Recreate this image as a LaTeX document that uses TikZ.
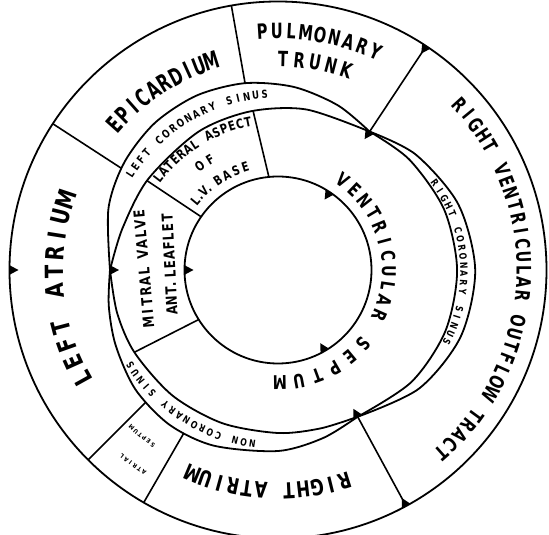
\documentclass[tikz,border=0pt]{standalone}
\usepackage{fontspec}
\setmainfont{DejaVu Sans}
\usetikzlibrary{calc}
\tikzset{
  ln/.style={line width=1.8pt, line join=round},
  dv/.style={line width=1.6pt},
  ch/.style={inner sep=0pt, text depth=0pt},
  st/.style n args={3}{font=\fontsize{#1}{#1}\selectfont\bfseries, text height=#2, xscale=#3},
  tEpi/.style={st={24}{17.5pt}{0.65}},
  tPul/.style={st={21}{15.3pt}{0.7}},
  tRvo/.style={st={20}{14.6pt}{0.72}},
  tRa/.style={st={22}{16pt}{0.75}},
  tLa/.style={st={25}{18.2pt}{0.78}},
  tVs/.style={st={19}{13.9pt}{0.75}},
  tMv/.style={st={15}{10.9pt}{0.78}},
  tLat/.style={st={13}{9.5pt}{0.78}},
  tLcs/.style={st={11}{8pt}{0.78}},
  tSin/.style={st={10}{7.3pt}{0.78}},
  tAs/.style={st={6}{4.4pt}{0.9}},
  tri/.style={fill=black, draw=none}
}
% letters along an arc, uniform step
\newcommand\arclabel[6][]{%
  \foreach \lch [count=\li from 0] in {#6}{%
    \pgfmathsetmacro\lang{#4+\li*(#5)}%
    \pgfmathsetmacro\lrot{\lang-90}%
    \node[ch,rotate=\lrot,#1] at ($#2+(\lang:#3)$) {\lch};
  }}
% letters along an arc, slot/char pairs
\newcommand\arclabelp[6][]{%
  \foreach \ls/\lch in {#6}{%
    \pgfmathsetmacro\lang{#4+\ls*(#5)}%
    \pgfmathsetmacro\lrot{\lang-90}%
    \node[ch,rotate=\lrot,#1] at ($#2+(\lang:#3)$) {\lch};
  }}
% letters along a straight line, slot/char pairs
\newcommand\linelabel[5][]{%
  \foreach \ls/\lch in {#5}{%
    \node[ch,rotate=#3,#1] at ($#2+(#3:{\ls*#4})$) {\lch};
  }}
% small inward pointing triangle on a ring
\newcommand\comtri[2]{%
  \fill[tri] ($(#1:#2)+(#1+90:4.8)$) -- ($(#1:#2)+(#1-90:4.8)$) -- (#1:{#2-9}) -- cycle;}

\begin{document}
\begin{tikzpicture}[x=1pt,y=1pt]
\useasboundingbox (-278,-265) rectangle (271,270);
\coordinate (C) at (0,0);
\coordinate (P1) at (56.5:166);
\coordinate (P2) at (-61.5:167);
\coordinate (PL) at (180:168);

% rings
\draw[ln] (C) circle[radius=268.5];
\draw[ln] (C) circle[radius=93.5];

% sinus curves
\draw[ln] plot[smooth] coordinates {(56.5:166) (70:175.2) (85:183.7) (100:189.7) (115:192.5) (130:191.8) (145:187.6) (160:180.4) (180:168)};
\draw[ln] plot[smooth] coordinates {(56.5:166) (80:163) (100:161) (120:159.5) (145:158.5) (165:161) (180:168)};
\draw[ln] plot[smooth] coordinates {(56.5:166) (40:179.7) (20:191.9) (0:197.2) (-20:194.5) (-40:184.3) (-61.5:167)};
\draw[ln] plot[smooth] coordinates {(56.5:166) (40:171.6) (20:176.8) (0:179.1) (-20:178.2) (-40:174.2) (-61.5:167)};
\draw[ln] plot[smooth] coordinates {(-61.5:167) (-75:174) (-90:181) (-110:187) (-125:189) (-140:186) (-155:179) (-168:173) (-180:168)};
\draw[ln] plot[smooth] coordinates {(-61.5:167) (-75:164) (-90:163) (-110:163) (-130:164) (-150:165.5) (-165:166.5) (-180:168)};

% outer dividers
\draw[dv] (147:187.4) -- (147:268.5);
\draw[dv] (100:189.7) -- (100:268.5);
\draw[dv] (P1) -- (56.5:268.5);
\draw[dv] (P2) -- (-61.5:268.5);
\draw[dv] (-120:188.5) -- (-120:268.5);
\draw[dv] (-135:187.5) -- (-135:268.5);
% inner dividers
\draw[dv] (145.7:158.5) -- (145.3:93.5);
\draw[dv] (98.9:161) -- (95.6:93.5);
\draw[dv] (-150.2:165.5) -- (-148:93.5);

% triangles
\comtri{56.5}{268.5}\comtri{180}{268.5}\comtri{-61.5}{268.5}
\comtri{56.5}{166}\comtri{180}{168}\comtri{-61.5}{167}
\comtri{56.5}{93.5}\comtri{180}{93.5}\comtri{-60}{93.5}

% outer ring labels
\arclabel[tEpi]{(0,0)}{219}{138.3}{-3.41}{E,P,I,C,A,R,D,I,U,M}
\arclabel[tPul]{(0,0)}{239}{93.8}{-3.49}{P,U,L,M,O,N,A,R,Y}
\arclabel[tPul]{(0,0)}{211}{88.6}{-4.375}{T,R,U,N,K}
\arclabel[tRvo]{(0,0)}{246}{42.3}{-3.02}{R,I,G,H,T,{},V,E,N,T,R,I,C,U,L,A,R,{},O,U,T,F,L,O,W,{},T,R,A,C,T}
\arclabel[tRa]{(0,0)}{221}{-72.5}{-3.66}{R,I,G,H,T,{},A,T,R,I,U,M}
\arclabel[tLa]{(0,0)}{224}{209}{-4.74}{L,E,F,T,{},A,T,R,I,U,M}
\arclabel[tAs]{(0,0)}{243}{-123.5}{-1.3}{A,T,R,I,A,L}
\arclabel[tAs]{(0,0)}{215}{-125.6}{-1.45}{S,E,P,T,U,M}

% sinus labels
\arclabel[tLcs]{(0,0)}{176}{147.1}{-2.93}{L,E,F,T,{},C,O,R,O,N,A,R,Y,{},S,I,N,U,S}
\arclabel[tSin]{(36,-2)}{150}{36.3}{-3.37}{R,I,G,H,T,{},C,O,R,O,N,A,R,Y,{},S,I,N,U,S}
\arclabel[tSin]{(0,0)}{176}{-98.4}{-2.865}{N,O,N,{},C,O,R,O,N,A,R,Y,{},S,I,N,U,S}

% inner ring labels
\arclabel[tLat]{(0,0)}{151}{142.6}{-3.16}{L,A,T,E,R,A,L,{},A,S,P,E,C,T}
\arclabel[tLat]{(0,0)}{130}{127}{-5.5}{O,F}
\arclabelp[tLat]{(0,0)}{108}{140}{-5.4}{0/L,0.6/.,1.2/V,1.8/.,3/B,4/A,5/S,6/E}
\linelabel[tMv]{(-129.5,-52)}{95}{10.1}{0/M,1/I,2/T,3/R,4/A,5/L,6.7/V,7.7/A,8.7/L,9.7/V,10.7/E}
\linelabel[tMv]{(-106,-40)}{93}{9.4}{0/A,1/N,2/T,2.7/.,3.8/L,4.8/E,5.8/A,6.8/F,7.8/L,8.8/E,9.8/T}
\arclabel[tVs]{(0,0)}{111}{54}{-7.8}{V,E,N,T,R,I,C,U,L,A,R}
\arclabel[tVs]{(0,0)}{113}{-40.7}{-9.66}{S,E,P,T,U,M}
\end{tikzpicture}
\end{document}
